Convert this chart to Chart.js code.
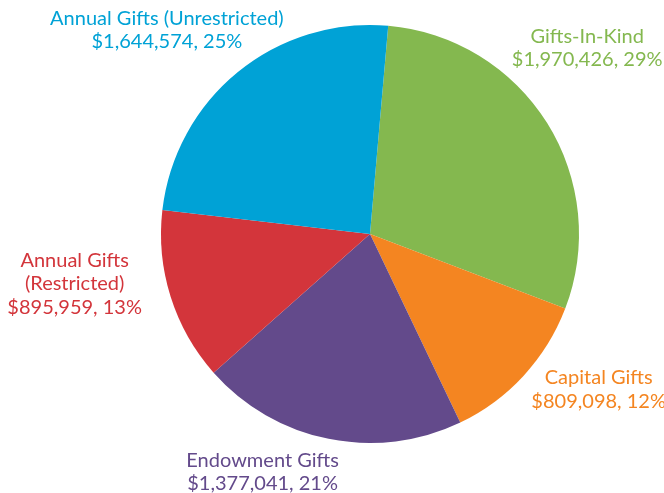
<!DOCTYPE html>
<html>
<head>
<meta charset="utf-8">
<script src="https://cdn.jsdelivr.net/npm/chart.js@4"></script>
<style>
  html, body { margin: 0; padding: 0; background: #ffffff; }
  #wrap { width: 664px; height: 493px; position: relative; }
</style>
</head>
<body>
<div id="wrap"><canvas id="chartGifts"></canvas></div>
<script>
// data
var categories = ['Gifts-In-Kind', 'Capital Gifts', 'Endowment Gifts', 'Annual Gifts (Restricted)', 'Annual Gifts (Unrestricted)'];
var amounts = [1970426, 809098, 1377041, 895959, 1644574];
var percents = [29, 12, 21, 13, 25];
var labelLines = [
    ['Gifts-In-Kind'],
    ['Capital Gifts'],
    ['Endowment Gifts'],
    ['Annual Gifts', '(Restricted)'],
    ['Annual Gifts (Unrestricted)']
];

var sliceColors = ['#84b84f', '#f48521', '#634a8b', '#d3353b', '#00a2d6'];
// label offset from the slice edge at its mid-angle (px)
var labelShift = [[40, -75], [75, 14], [-66, 33], [-96, -13], [-71, -42]];

function money(v) {
    return '$' + v.toLocaleString('en-US');
}

// draws the coloured text labels outside the pie
var outsideLabels = {
    id: 'outsideLabels',
    afterDraw: function(chart) {
        var ctx = chart.ctx;
        var arcs = chart.getDatasetMeta(0).data;
        ctx.save();
        ctx.font = '20px Lato';
        ctx.textAlign = 'center';
        ctx.textBaseline = 'middle';
        arcs.forEach(function(arc, i) {
            var mid = (arc.startAngle + arc.endAngle) / 2;
            var ex = arc.x + Math.cos(mid) * arc.outerRadius;
            var ey = arc.y + Math.sin(mid) * arc.outerRadius;
            var lines = labelLines[i].concat([money(amounts[i]) + ', ' + percents[i] + '%']);
            var lh = 23.5;
            var cx = ex + labelShift[i][0];
            var cy = ey + labelShift[i][1] - (lines.length - 1) * lh / 2;
            ctx.fillStyle = sliceColors[i];
            lines.forEach(function(t, k) {
                ctx.fillText(t, cx, cy + k * lh);
            });
        });
        ctx.restore();
    }
};

new Chart(document.getElementById('chartGifts'), {
    type: 'pie',
    data: {
        labels: categories,
        datasets: [{
            data: amounts,
            backgroundColor: sliceColors,
            borderWidth: 0
        }]
    },
    options: {
        responsive: true,
        maintainAspectRatio: false,
        animation: false,
        rotation: 5,
        layout: { padding: { top: 25, bottom: 50, left: 161, right: 85 } },
        plugins: {
            legend: { display: false },
            tooltip: { enabled: false }
        }
    },
    plugins: [outsideLabels]
});
</script>
</body>
</html>
